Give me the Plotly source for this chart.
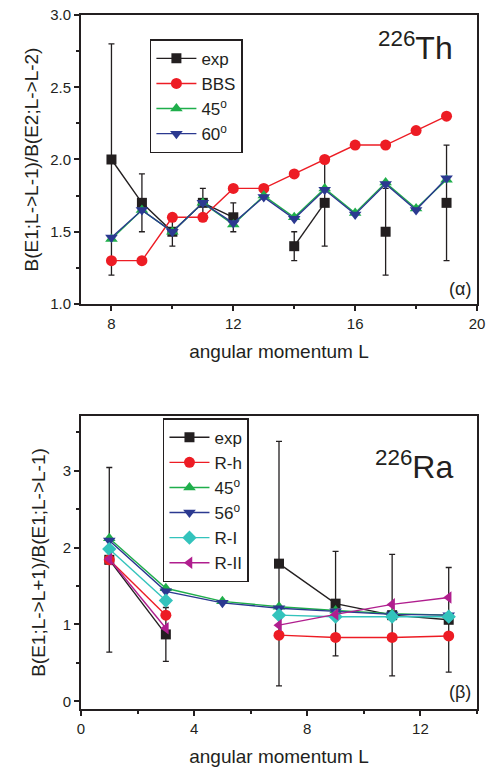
import plotly.graph_objects as go

# ---------- Top panel data (226Th) ----------
L_top = [8, 9, 10, 11, 12, 13, 14, 15, 16, 17, 18, 19]
exp_top = [2.0, 1.7, 1.5, 1.7, 1.6, None, 1.4, 1.7, None, 1.5, None, 1.7]
exp_top_err = [0.8, 0.2, 0.1, 0.1, 0.1, None, 0.1, 0.3, None, 0.3, None, 0.4]
bbs_top = [1.3, 1.3, 1.6, 1.6, 1.8, 1.8, 1.9, 2.0, 2.1, 2.1, 2.2, 2.3]
deg45_top = [1.45, 1.65, 1.50, 1.70, 1.55, 1.75, 1.60, 1.80, 1.63, 1.84, 1.66, 1.86]
deg60_top = [1.46, 1.65, 1.50, 1.70, 1.56, 1.74, 1.59, 1.79, 1.62, 1.83, 1.65, 1.87]

# ---------- Bottom panel data (226Ra) ----------
L_bot = [1, 3, 5, 7, 9, 11, 13]
exp_bot = [1.84, 0.87, None, 1.79, 1.27, 1.12, 1.06]
exp_bot_err = [1.2, 0.35, None, 1.59, 0.68, 0.79, 0.68]
rh_bot = [1.84, 1.12, None, 0.86, 0.83, 0.83, 0.85]
deg45_bot = [2.12, 1.47, 1.30, 1.23, 1.18, 1.14, 1.12]
deg56_bot = [2.09, 1.43, 1.28, 1.21, 1.17, 1.13, 1.12]
ri_bot = [1.98, 1.31, None, 1.12, 1.10, 1.10, 1.10]
rii_bot = [1.85, 0.95, None, 0.99, 1.13, 1.26, 1.35]

BLACK = "#231F20"
RED = "#ED1C24"
GREEN = "#1FAE4B"
NAVY = "#2B3990"
CYAN = "#33C3BC"
MAGENTA = "#B01E8E"

FONT = "Liberation Sans, Arial, sans-serif"
MS = 11

fig = go.Figure()

def add(x, y, name, color, symbol, xa, ya, legend, err=None, size=MS):
    kw = {}
    if err is not None:
        kw["error_y"] = dict(type="data", array=err, visible=True, color=BLACK,
                             thickness=1.3, width=3)
    fig.add_trace(go.Scatter(
        x=x, y=y, name=name, mode="lines+markers",
        line=dict(color=color, width=1.4),
        marker=dict(color=color, symbol=symbol, size=size),
        xaxis=xa, yaxis=ya, legend=legend, connectgaps=False, **kw))

# top panel
add(L_top, exp_top, "exp", BLACK, "square", "x", "y", "legend", exp_top_err, 10)
add(L_top, bbs_top, "BBS", RED, "circle", "x", "y", "legend")
add(L_top, deg45_top, "45<sup>o</sup>", GREEN, "triangle-up", "x", "y", "legend")
add(L_top, deg60_top, "60<sup>o</sup>", NAVY, "triangle-down", "x", "y", "legend")

# bottom panel
add(L_bot, exp_bot, "exp", BLACK, "square", "x2", "y2", "legend2", exp_bot_err, 10)
add(L_bot, rh_bot, "R-h", RED, "circle", "x2", "y2", "legend2")
add(L_bot, deg45_bot, "45<sup>o</sup>", GREEN, "triangle-up", "x2", "y2", "legend2")
add(L_bot, deg56_bot, "56<sup>o</sup>", NAVY, "triangle-down", "x2", "y2", "legend2")
add(L_bot, ri_bot, "R-I", CYAN, "diamond", "x2", "y2", "legend2")
add(L_bot, rii_bot, "R-II", MAGENTA, "triangle-left", "x2", "y2", "legend2")

axis_common = dict(showgrid=False, zeroline=False, showline=True, linecolor=BLACK,
                   linewidth=1.8, mirror=True, ticks="outside", ticklen=5,
                   tickwidth=1.5, tickcolor=BLACK, automargin=False,
                   tickfont=dict(family=FONT, size=15, color=BLACK))

# mirrored axes (top / right) with inward ticks and no labels
mirror_common = dict(showgrid=False, zeroline=False, showline=False, ticks="inside",
                     ticklen=5, tickwidth=1.5, tickcolor=BLACK, showticklabels=False,
                     automargin=False)

title_font = dict(size=19, family=FONT, color=BLACK)
top_bottom = 0.5836
bot_top = 0.4222

fig.update_layout(
    width=487, height=778,
    margin=dict(l=81, r=10, t=15, b=69),
    paper_bgcolor="white", plot_bgcolor="white",
    font=dict(family=FONT, color=BLACK),
    xaxis=dict(domain=[0, 1], anchor="y", range=[7, 20], tick0=8, dtick=4,
               minor=dict(dtick=2, tick0=8, ticks="outside", ticklen=3, tickcolor=BLACK),
               title=dict(text="angular momentum L", font=title_font, standoff=14),
               **axis_common),
    yaxis=dict(domain=[top_bottom, 1], anchor="x", range=[1, 3], tick0=1, dtick=0.5,
               tickformat=".1f",
               minor=dict(dtick=0.25, tick0=1, ticks="outside", ticklen=3, tickcolor=BLACK),
               title=dict(text="B(E1;L->L-1)/B(E2;L->L-2)", font=title_font, standoff=7),
               **axis_common),
    xaxis2=dict(domain=[0, 1], anchor="y2", range=[0, 14], tick0=0, dtick=4,
                minor=dict(dtick=2, tick0=0, ticks="outside", ticklen=3, tickcolor=BLACK),
                title=dict(text="angular momentum L", font=title_font, standoff=14),
                **axis_common),
    yaxis2=dict(domain=[0, bot_top], anchor="x2", range=[-0.1, 3.71], tick0=0, dtick=1,
                minor=dict(dtick=0.5, tick0=0, ticks="outside", ticklen=3, tickcolor=BLACK),
                title=dict(text="B(E1;L->L+1)/B(E1;L->L-1)", font=title_font, standoff=12),
                **axis_common),
    xaxis3=dict(overlaying="x", anchor="y", side="top", range=[7, 20], tick0=8, dtick=4,
                minor=dict(dtick=2, tick0=8, ticks="inside", ticklen=3, tickcolor=BLACK),
                **mirror_common),
    yaxis3=dict(overlaying="y", anchor="x", side="right", range=[1, 3], tick0=1, dtick=0.5,
                minor=dict(dtick=0.25, tick0=1, ticks="inside", ticklen=3, tickcolor=BLACK),
                **mirror_common),
    xaxis4=dict(overlaying="x2", anchor="y2", side="top", range=[0, 14], tick0=0, dtick=4,
                minor=dict(dtick=2, tick0=0, ticks="inside", ticklen=3, tickcolor=BLACK),
                **mirror_common),
    yaxis4=dict(overlaying="y2", anchor="x2", side="right", range=[-0.1, 3.71], tick0=0, dtick=1,
                minor=dict(dtick=0.5, tick0=0, ticks="inside", ticklen=3, tickcolor=BLACK),
                **mirror_common),
    legend=dict(x=0.174, y=0.965, xanchor="left", yanchor="top",
                bordercolor=BLACK, borderwidth=1.5, bgcolor="white",
                font=dict(family=FONT, size=17, color=BLACK),
                tracegroupgap=0, itemwidth=40),
    legend2=dict(x=0.207, y=0.419, xanchor="left", yanchor="top",
                 bordercolor=BLACK, borderwidth=1.5, bgcolor="white",
                 font=dict(family=FONT, size=17, color=BLACK),
                 tracegroupgap=0, itemwidth=40),
    showlegend=True,
)

ann_font_big = dict(family=FONT, size=32, color=BLACK)
fig.add_annotation(xref="paper", yref="paper", x=0.945, y=0.955, xanchor="right", yanchor="middle",
                   text="<sup>226</sup>Th", showarrow=False, font=ann_font_big)
fig.add_annotation(xref="paper", yref="paper", x=0.99, y=0.605, xanchor="right", yanchor="middle",
                   text="(\u03b1)", showarrow=False, font=dict(family=FONT, size=18, color=BLACK))
fig.add_annotation(xref="paper", yref="paper", x=0.945, y=0.352, xanchor="right", yanchor="middle",
                   text="<sup>226</sup>Ra", showarrow=False, font=ann_font_big)
fig.add_annotation(xref="paper", yref="paper", x=0.99, y=0.024, xanchor="right", yanchor="middle",
                   text="(\u03b2)", showarrow=False, font=dict(family=FONT, size=18, color=BLACK))

fig.write_html("out.html", config={"displayModeBar": False},
               post_script="document.body.style.margin='0';")
